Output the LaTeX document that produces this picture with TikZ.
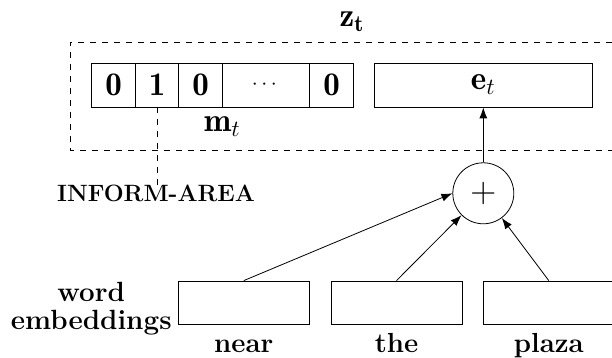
\RequirePackage{fix-cm}
\documentclass[tikz,border=0pt]{standalone}
\usepackage{amsmath}
\usepackage{fontspec}
\usepackage{tikz}
\usetikzlibrary{arrows.meta}
\pgfdeclarelayer{bg}
\pgfsetlayers{bg,main}
\tikzset{
    cell/.style={rectangle, inner sep=0mm, draw, minimum width=0.766200cm, minimum height=0.773200cm, font=\fontsize{16.5}{19}\selectfont},
    wordbox/.style={rectangle, inner sep=0mm, draw, minimum width=2.302100cm, minimum height=0.755600cm},
    sumnode/.style={circle, inner sep=0mm, draw, minimum size=1.072000cm, font=\fontsize{18}{20}\selectfont},
    txt/.style={draw=none, inner sep=0mm},
    tip/.style={-{Latex[length=5.5pt, width=4pt]}}
}
\tikzset{every label/.style={shape=rectangle, draw=none, fill=white, inner sep=0mm, yshift=-4.4pt, text height=9.3pt, text depth=2.6pt, font=\fontsize{13.8}{14.3}\selectfont\bfseries}}

\begin{document}
\begin{tikzpicture}
        \useasboundingbox (0cm, 0cm) rectangle (10.754700cm, 6.291200cm);
        \clip (0cm, 0cm) rectangle (10.754700cm, 6.291200cm);
        \draw [dashed] (10.754700cm, 5.553100cm) -- (1.230100cm, 5.553100cm) -- (1.230100cm, 3.655200cm) -- (10.754700cm, 3.655200cm);
        \node (zt) [txt, anchor=base, font=\fontsize{16.5}{19}\selectfont] at (6.185700cm, 5.821900cm) {$\mathbf{z_t}$};
        \node (m0) [cell] at (1.994600cm, 4.797500cm) {$\mathbf{0}$};
        \node (m1) [cell] at (2.760700cm, 4.797500cm) {$\mathbf{1}$};
        \node (m2) [cell] at (3.526900cm, 4.797500cm) {$\mathbf{0}$};
        \node (m3) [cell, minimum width=1.532400cm, font=\fontsize{10.7}{12}\selectfont] at (4.676200cm, 4.797500cm) {$\cdots$};
        \node (m4) [cell] at (5.825500cm, 4.797500cm) {$\mathbf{0}$};
        \node (mt) [txt, anchor=base, font=\fontsize{16.5}{19}\selectfont] at (3.904700cm, 3.976800cm) {$\mathbf{m}_t$};
        \node (e) [cell, minimum width=3.843300cm] at (8.493100cm, 4.797500cm) {$\mathbf{e}_t$};
        \node (plus) [sumnode] at (8.493100cm, 2.894300cm) {$+$};
        \node (inform) [txt, font=\fontsize{11.8}{13}\selectfont\bfseries] at (2.741400cm, 2.885500cm) {INFORM-AREA};
        \node (embed) [txt, anchor=east, align=center, font=\fontsize{13.9}{14.3}\selectfont\bfseries] at (3.022600cm, 0.868100cm) {word\\embeddings};
        \node (w1) [wordbox, label=below:{near}] at (4.284300cm, 0.975300cm) {};
        \node (w2) [wordbox, label=below:{the}] at (6.967700cm, 0.975300cm) {};
        \node (w3) [wordbox, label=below:{plaza}] at (9.644100cm, 0.975300cm) {};
        \begin{pgfonlayer}{bg}
                \draw [dashed] (m1.south) -- (m1.south |- inform.north);
                \draw (plus) edge [tip] (e);
                \draw (w1.north) edge [tip] (plus.west);
                \draw (w2.north) edge [tip] (plus);
                \draw (w3.north) edge [tip] (plus);
        \end{pgfonlayer}
\end{tikzpicture}
\end{document}
